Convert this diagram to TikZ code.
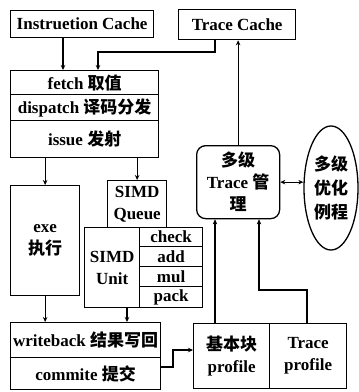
\documentclass[tikz,border=0pt]{standalone}
\usepackage{fontspec}
\setmainfont{Liberation Serif}
\newfontfamily\cjk{Noto Sans CJK SC}
\newcommand\zh[1]{{\cjk\bfseries #1}}
\usetikzlibrary{arrows.meta,shapes.geometric}
\begin{document}
\begin{tikzpicture}[x=1pt,y=-1pt,
  box/.style={draw,line width=1.3pt,inner sep=0pt,align=center,anchor=north west,
    font=\fontsize{17}{22}\selectfont\bfseries},
  arr/.style={line width=1.2pt,-{Stealth[length=5pt,width=4.5pt]}},
  conn/.style={line width=1.2pt}]
\useasboundingbox (0,0) rectangle (359,392);
% top caches
\node[box,minimum width=143pt,minimum height=27pt] (ic) at (10,10) {Instruetion Cache};
\node[box,minimum width=117pt,minimum height=30pt] (tc) at (178,9) {Trace Cache};
% pipeline front
\node[box,minimum width=148pt,minimum height=24pt] (fetch) at (10,70) {fetch \zh{取值}};
\node[box,minimum width=148pt,minimum height=26pt] (disp) at (10,94) {dispatch \zh{译码分发}};
\node[box,minimum width=148pt,minimum height=37pt] (issue) at (10,120) {issue \zh{发射}};
% execute
\node[box,minimum width=69pt,minimum height=110pt] (exe) at (10,185) {exe\\\zh{执行}};
\node[box,minimum width=59pt,minimum height=47pt] (sq) at (107,180) {SIMD\\Queue};
\node[box,minimum width=55pt,minimum height=80pt] (su) at (84,227) {SIMD\\Unit};
\node[box,minimum width=63pt,minimum height=19pt] (chk) at (139,227) {check};
\node[box,minimum width=63pt,minimum height=20pt] (add) at (139,246) {add};
\node[box,minimum width=63pt,minimum height=20pt] (mul) at (139,266) {mul};
\node[box,minimum width=63pt,minimum height=21pt] (pack) at (139,286) {pack};
% write back
\node[box,minimum width=150pt,minimum height=35pt] (wb) at (10,322) {writeback \zh{结果写回}};
\node[box,minimum width=150pt,minimum height=32pt] (cm) at (10,357) {commite \zh{提交}};
% profiles
\node[box,minimum width=76pt,minimum height=65pt] (bb) at (193,323) {\zh{基本块}\\profile};
\node[box,minimum width=77pt,minimum height=65pt] (tp) at (269,323) {Trace\\profile};
% trace manager
\node[box,rounded corners=9pt,minimum width=83pt,minimum height=73pt] (tm) at (196,145) {\zh{多级}\\Trace \zh{管}\\\zh{理}};
\node[ellipse,draw,line width=1.3pt,inner sep=0pt,minimum width=54pt,minimum height=124pt,align=center,
  font=\fontsize{17}{24}\selectfont\bfseries] (opt) at (331,188) {\zh{多级}\\\zh{优化}\\\zh{例程}};
% helper coordinates
\coordinate (x63) at (63,0);
\coordinate (x98) at (98,0);
\coordinate (x215) at (215,0);
\coordinate (x127) at (127,0);
\coordinate (x259) at (259,0);
\coordinate (x307) at (307,0);
\coordinate (x173) at (173,0);
\coordinate (y52) at (0,52);
\coordinate (y290) at (0,290);
\coordinate (y350) at (0,350);
\coordinate (y367) at (0,367);
% connectors
\draw[arr] (ic.south -| x63) -- (fetch.north -| x63);
\draw[arr] (tc.south -| x215) -- (x215 |- y52) -- (x98 |- y52) -- (fetch.north -| x98);
\draw[arr] (exe.north |- issue.south) -- (exe.north);
\draw[arr] (sq.north |- issue.south) -- (sq.north);
\draw[arr] (exe.south) -- (exe.south |- wb.north);
\draw[arr] (su.south -| x127) -- (wb.north -| x127);
\draw[arr] (cm.east |- y367) -- (x173 |- y367) -- (x173 |- y350) -- (bb.west |- y350);
\draw[arr] (bb.north -| x215) -- (tm.south -| x215);
\draw[arr] (tp.north -| x307) -- (x307 |- y290) -- (x259 |- y290) -- (tm.south -| x259);
\draw[arr] (tm.north) -- (tm.north |- tc.south);
\draw[line width=1.2pt,{Stealth[length=5pt,width=4.5pt]}-{Stealth[length=5pt,width=4.5pt]}] (tm.east) -- (tm.east -| opt.west);
\end{tikzpicture}
\end{document}
